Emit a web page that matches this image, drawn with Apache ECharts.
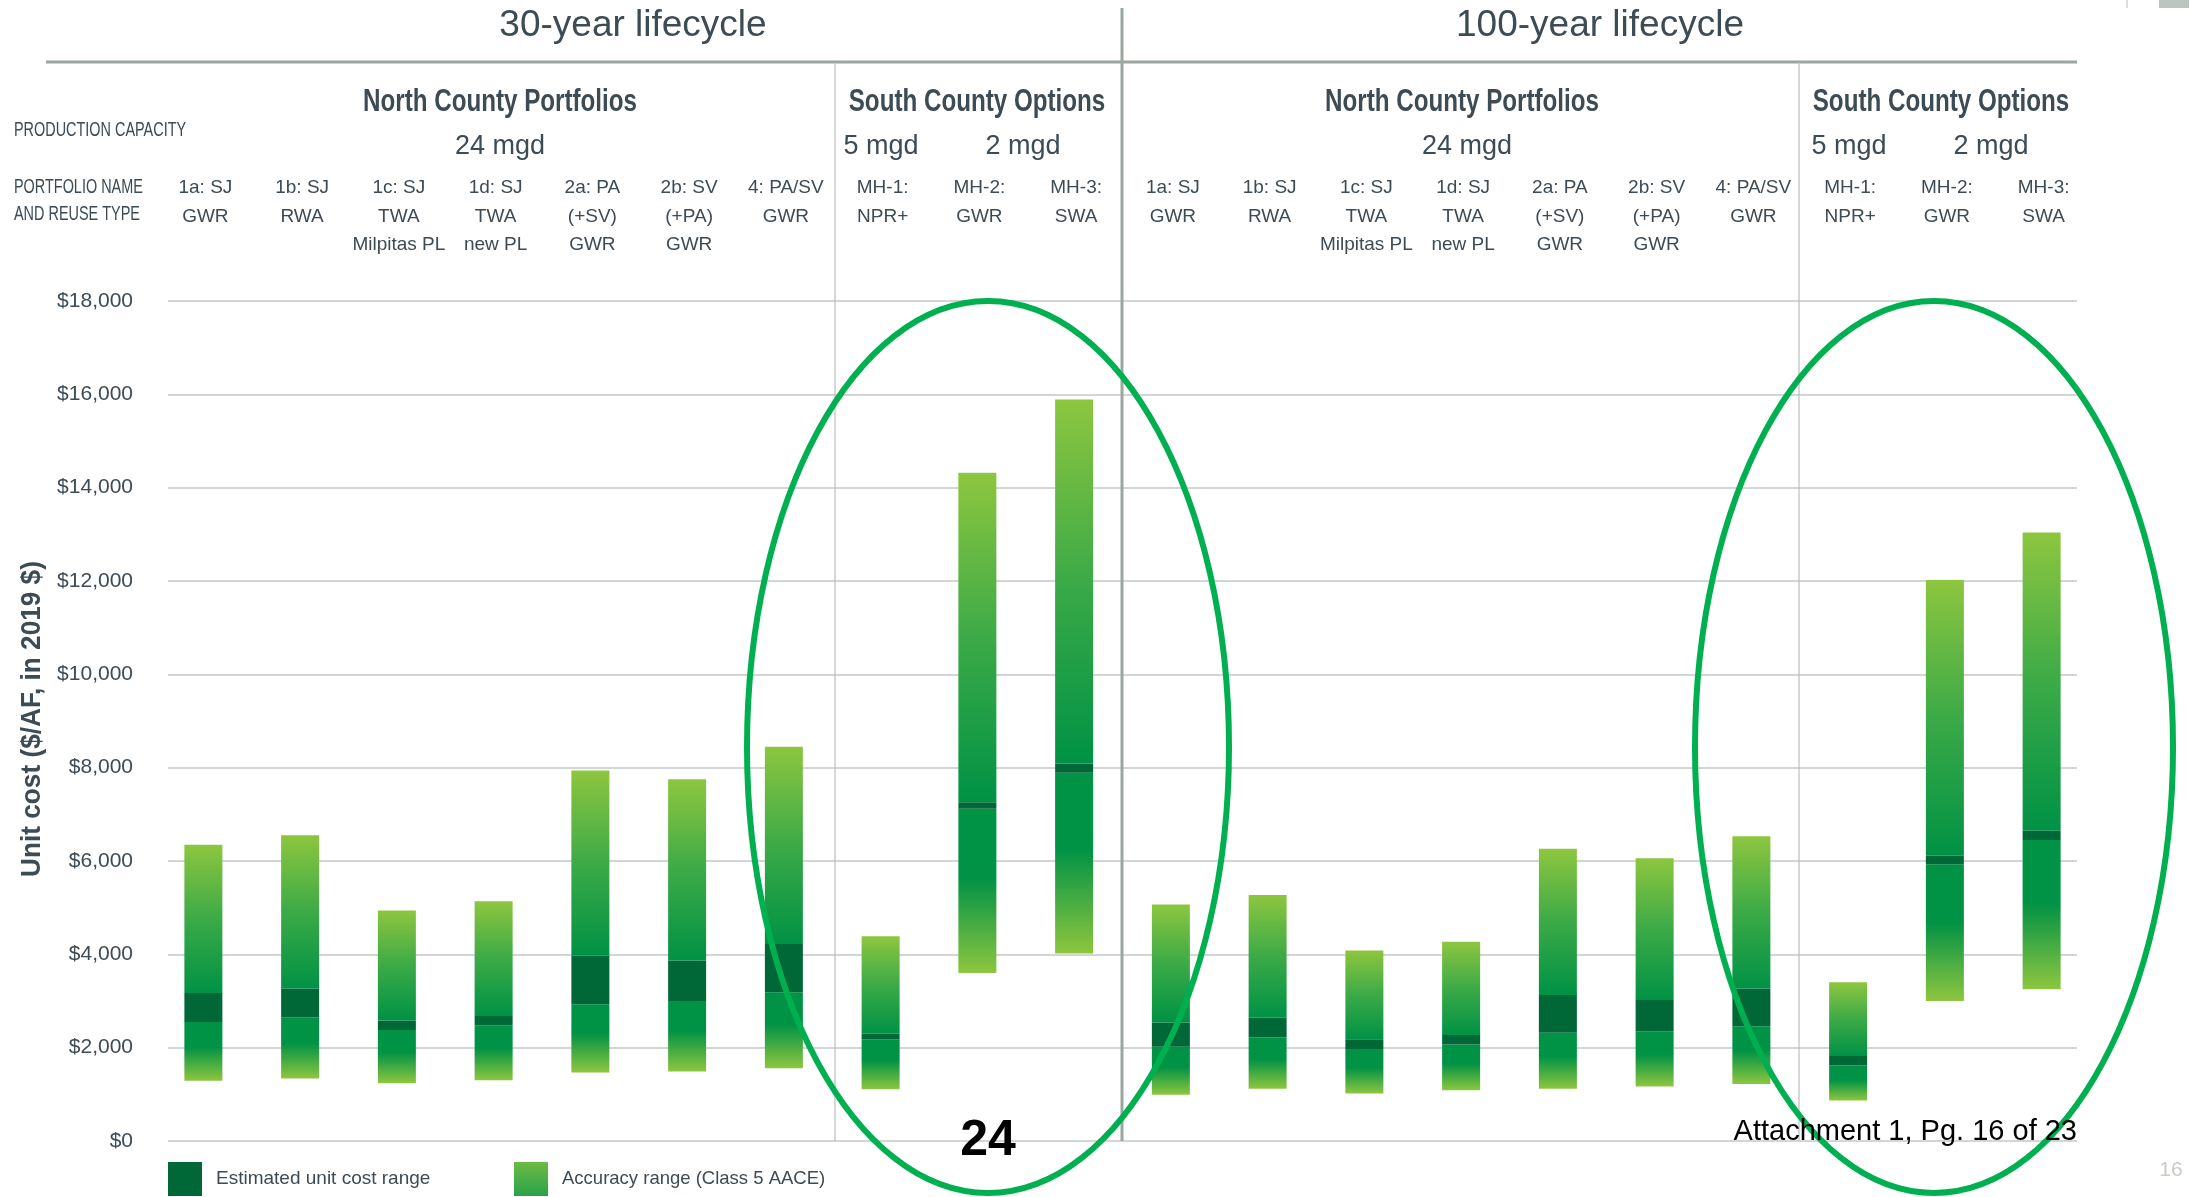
<!DOCTYPE html>
<html>
<head>
<meta charset="utf-8">
<script src="https://cdn.jsdelivr.net/npm/echarts@6/dist/echarts.min.js"></script>
<style>
  html, body { margin: 0; padding: 0; background: #ffffff; }
  #chart { width: 2190px; height: 1197px; }
</style>
</head>
<body>
<div id="chart"></div>
<script>
// portfolio names, same set for both lifecycles
var categories = ['1a: SJ\nGWR', '1b: SJ\nRWA', '1c: SJ\nTWA\nMilpitas PL', '1d: SJ\nTWA\nnew PL',
  '2a: PA\n(+SV)\nGWR', '2b: SV\n(+PA)\nGWR', '4: PA/SV\nGWR', 'MH-1:\nNPR+', 'MH-2:\nGWR', 'MH-3:\nSWA'];

// 30-year lifecycle ($/AF)
var low30 = [1290, 1340, 1240, 1300, 1470, 1490, 1560, 1110, 3600, 4020];
var estLow30 = [2550, 2650, 2380, 2480, 2930, 3000, 3190, 2180, 7120, 7890];
var estHigh30 = [3170, 3270, 2580, 2680, 3970, 3870, 4220, 2300, 7260, 8090];
var high30 = [6350, 6550, 4940, 5140, 7940, 7750, 8450, 4390, 14320, 15890];

// 100-year lifecycle ($/AF)
var low100 = [990, 1120, 1020, 1090, 1120, 1170, 1220, 870, 3000, 3250];
var estLow100 = [2020, 2220, 1970, 2070, 2320, 2350, 2460, 1620, 5930, 6450];
var estHigh100 = [2540, 2640, 2180, 2270, 3130, 3020, 3270, 1820, 6110, 6650];
var high100 = [5070, 5270, 4080, 4270, 6260, 6060, 6530, 3400, 12020, 13040];

var yTicks = [0, 2000, 4000, 6000, 8000, 10000, 12000, 14000, 16000, 18000];

var FONT = 'Liberation Sans';
var TXT = '#3d4b55';
var LINE = '#9aa79e';

var cats = categories.concat(categories);
var low = low30.concat(low100);
var estLow = estLow30.concat(estLow100);
var estHigh = estHigh30.concat(estHigh100);
var high = high30.concat(high100);

// stack pieces
var accLower = [], estBand = [], accUpper = [];
for (var i = 0; i < low.length; i++) {
  accLower.push(estLow[i] - low[i]);
  estBand.push(estHigh[i] - estLow[i]);
  accUpper.push(high[i] - estHigh[i]);
}

var upperGrad = new echarts.graphic.LinearGradient(0, 0, 0, 1, [
  { offset: 0, color: '#8dc63f' },
  { offset: 0.5, color: '#3caa47' },
  { offset: 1, color: '#009245' }
]);
var lowerGrad = new echarts.graphic.LinearGradient(0, 0, 0, 1, [
  { offset: 0, color: '#009245' },
  { offset: 0.42, color: '#009245' },
  { offset: 1, color: '#8dc63f' }
]);
var legendGrad = new echarts.graphic.LinearGradient(0, 0, 0, 1, [
  { offset: 0, color: '#6dbc45' },
  { offset: 1, color: '#2aa24a' }
]);

function headText(txt, x, y, size, weight, sx, align) {
  return {
    type: 'text', x: x, y: y, scaleX: sx || 1, z: 50,
    style: {
      text: txt, fill: TXT, font: (weight || 'normal') + ' ' + size + 'px "' + FONT + '"',
      textAlign: align || 'center', textVerticalAlign: 'middle'
    }
  };
}
function vline(x, y1, y2, w, c) {
  return { type: 'line', z: 5, shape: { x1: x, y1: y1, x2: x, y2: y2 }, style: { stroke: c, lineWidth: w } };
}

var chart = echarts.init(document.getElementById('chart'));

var option = {
  backgroundColor: '#ffffff',
  animation: false,
  textStyle: { fontFamily: FONT },
  grid: [
    // gridlines + y labels
    { left: 168, right: 113, top: 301, bottom: 56 },
    // bars
    { left: 155, right: 100, top: 301, bottom: 56 }
  ],
  xAxis: [
    { gridIndex: 0, type: 'value', show: false, min: 0, max: 1 },
    {
      gridIndex: 1, type: 'category', data: cats, position: 'top',
      axisLine: { show: false }, axisTick: { show: false },
      axisLabel: {
        interval: 0, verticalAlign: 'top', margin: 127, fontSize: 19, lineHeight: 28.5,
        color: TXT, fontFamily: FONT, padding: [0, 0, 0, 4]
      }
    }
  ],
  yAxis: [
    {
      gridIndex: 0, type: 'value', min: yTicks[0], max: yTicks[yTicks.length - 1], interval: yTicks[1] - yTicks[0],
      axisLine: { show: false }, axisTick: { show: false },
      axisLabel: {
        margin: 35, fontSize: 21, color: TXT, fontFamily: FONT,
        formatter: function (v) { return '$' + v.toLocaleString('en-US'); }
      },
      splitLine: { lineStyle: { color: '#c3c8c6', width: 1.5 } }
    },
    { gridIndex: 1, type: 'value', min: yTicks[0], max: yTicks[yTicks.length - 1], show: false }
  ],
  legend: [
    {
      data: [{ name: 'Estimated unit cost range' }], left: 168, top: 1162, padding: 0,
      icon: 'rect', itemWidth: 34, itemHeight: 34, selectedMode: false,
      textStyle: { fontSize: 19, color: TXT, fontFamily: FONT, padding: [0, 0, 0, 9] }
    },
    {
      data: [{ name: 'Accuracy range (Class 5 AACE)', itemStyle: { color: legendGrad } }], left: 514, top: 1162, padding: 0,
      icon: 'rect', itemWidth: 34, itemHeight: 34, selectedMode: false,
      textStyle: { fontSize: 18.5, color: TXT, fontFamily: FONT, padding: [0, 0, 0, 9] }
    }
  ],
  series: [
    {
      name: 'base', type: 'bar', xAxisIndex: 1, yAxisIndex: 1, stack: 'r', data: low,
      barWidth: 38, silent: true, itemStyle: { color: 'transparent' }
    },
    {
      name: 'Accuracy range (Class 5 AACE)', type: 'bar', xAxisIndex: 1, yAxisIndex: 1, stack: 'r',
      data: accLower, barWidth: 38, itemStyle: { color: lowerGrad }
    },
    {
      name: 'Estimated unit cost range', type: 'bar', xAxisIndex: 1, yAxisIndex: 1, stack: 'r',
      data: estBand, barWidth: 38, itemStyle: { color: '#006837' }
    },
    {
      name: 'Accuracy range (Class 5 AACE)', type: 'bar', xAxisIndex: 1, yAxisIndex: 1, stack: 'r',
      data: accUpper, barWidth: 38, itemStyle: { color: upperGrad }
    }
  ],
  graphic: [
    // frame lines
    { type: 'line', z: 5, shape: { x1: 46, y1: 62, x2: 2077, y2: 62 }, style: { stroke: LINE, lineWidth: 3 } },
    vline(1122, 8, 1141, 3, LINE),
    vline(835, 62, 1141, 1.2, '#b9bebd'),
    vline(1799, 62, 1141, 1.2, '#b9bebd'),
    vline(2127, 0, 8, 1.5, '#cfd3d1'),
    { type: 'rect', shape: { x: 2159, y: 0, width: 30, height: 8 }, style: { fill: '#bcc5c0' } },

    // lifecycle titles
    headText('30-year lifecycle', 633, 26, 37, 'normal'),
    headText('100-year lifecycle', 1600, 26, 37, 'normal'),

    // section headers
    headText('North County Portfolios', 500, 102, 31, 'bold', 0.78),
    headText('South County Options', 977, 102, 31, 'bold', 0.78),
    headText('North County Portfolios', 1462, 102, 31, 'bold', 0.78),
    headText('South County Options', 1941, 102, 31, 'bold', 0.78),

    // capacity
    headText('24 mgd', 500, 147, 27, 'normal'),
    headText('5 mgd', 881, 147, 27, 'normal'),
    headText('2 mgd', 1023, 147, 27, 'normal'),
    headText('24 mgd', 1467, 147, 27, 'normal'),
    headText('5 mgd', 1849, 147, 27, 'normal'),
    headText('2 mgd', 1991, 147, 27, 'normal'),

    // row headings
    headText('PRODUCTION CAPACITY', 14, 131, 19.5, 'normal', 0.74, 'left'),
    headText('PORTFOLIO NAME', 14, 188, 19.5, 'normal', 0.74, 'left'),
    headText('AND REUSE TYPE', 14, 215, 19.5, 'normal', 0.74, 'left'),

    // y axis title
    {
      type: 'text', x: 32.5, y: 719, rotation: Math.PI / 2, scaleX: 0.97, z: 50,
      style: {
        text: 'Unit cost ($/AF, in 2019 $)', fill: TXT, font: 'bold 27px "' + FONT + '"',
        textAlign: 'center', textVerticalAlign: 'middle'
      }
    },

    // highlight ellipses
    { type: 'ellipse', z: 100, shape: { cx: 988, cy: 747, rx: 241, ry: 446 }, style: { fill: 'none', stroke: '#00b050', lineWidth: 6 } },
    { type: 'ellipse', z: 100, shape: { cx: 1934, cy: 747, rx: 239, ry: 446 }, style: { fill: 'none', stroke: '#00b050', lineWidth: 6 } },

    // annotations
    {
      type: 'text', x: 988, y: 1141, z: 110,
      style: { text: '24', fill: '#000000', font: 'bold 50px "' + FONT + '"', textAlign: 'center', textVerticalAlign: 'middle' }
    },
    {
      type: 'text', x: 2077, y: 1132, z: 110,
      style: { text: 'Attachment 1, Pg. 16 of 23', fill: '#000000', font: '29px "' + FONT + '"', textAlign: 'right', textVerticalAlign: 'middle' }
    },
    {
      type: 'text', x: 2171, y: 1170, z: 110,
      style: { text: '16', fill: '#c8ccc4', font: '21px "' + FONT + '"', textAlign: 'center', textVerticalAlign: 'middle' }
    }
  ]
};

chart.setOption(option);
</script>
</body>
</html>
